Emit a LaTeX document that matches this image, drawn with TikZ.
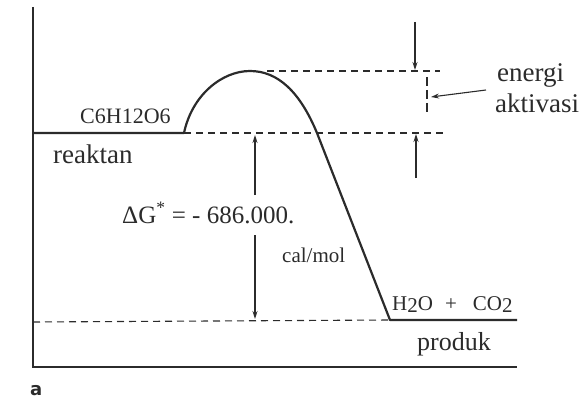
\documentclass[tikz,border=0pt]{standalone}
\usepackage{fontspec}
\setmainfont{Liberation Serif}
\newfontfamily\labfont{DejaVu Sans}
\usetikzlibrary{arrows.meta}
\definecolor{ink}{HTML}{2B2B2B}
\begin{document}
\begin{tikzpicture}[x=1pt,y=-1pt,
  axisline/.style={draw=ink,line width=1.6pt},
  curveline/.style={draw=ink,line width=2.2pt,line join=round},
  dashline/.style={draw=ink,line width=1.1pt,dash pattern=on 7pt off 5pt},
  arr/.style={draw=ink,line width=1.1pt,-{Stealth[length=8pt,width=5pt]}},
  lbl/.style={inner sep=0pt,anchor=base west,text=ink},
]
\useasboundingbox (0,0) rectangle (588,401);
% axes
\coordinate (ytop) at (33,7);
\coordinate (origin) at (33,367);
\coordinate (xend) at (517,367);
\draw[axisline] (ytop) -- (origin) -- (xend);
% energy profile
\coordinate (r0) at (33,133);
\coordinate (r1) at (184,133);
\coordinate (peak) at (250,71);
\coordinate (cross) at (317,133);
\coordinate (p0) at (390,320);
\coordinate (p1) at (517,320);
\draw[curveline] (r0) -- (r1) .. controls (192,95) and (222,71) .. (peak)
  .. controls (278,71) and (300,92) .. (cross) -- (p0) -- (p1);
% dashed levels
\coordinate (rd) at (445,133);
\coordinate (pk0) at (267,71);
\coordinate (pk1) at (440,71);
\coordinate (pd0) at (33,322);
\draw[dashline] (r1) -- (rd);
\draw[dashline] (pk0) -- (pk1);
\draw[dashline] (pd0) -- (p0);
% activation energy arrows
\coordinate (ta0) at (415,22);
\coordinate (ta1) at (415,70);
\coordinate (ba0) at (416,178);
\coordinate (ba1) at (416,134);
\draw[arr] (ta0) -- (ta1);
\draw[arr] (ba0) -- (ba1);
\coordinate (dv0) at (427,77);
\coordinate (dv1) at (427,113);
\draw[dashline,dash pattern=on 9pt off 4pt] (dv0) -- (dv1);
\coordinate (pt0) at (486,90);
\coordinate (pt1) at (431,97);
\draw[arr] (pt0) -- (pt1);
% delta G arrows
\coordinate (ga0) at (255,195);
\coordinate (ga1) at (255,135);
\coordinate (gb0) at (255,235);
\coordinate (gb1) at (255,319);
\draw[arr] (ga0) -- (ga1);
\draw[arr] (gb0) -- (gb1);
% labels
\node[lbl,font=\fontsize{22}{26}\selectfont] (glu) at (80,123) {C6H12O6};
\node[lbl,font=\fontsize{27}{30}\selectfont] (reak) at (53,163) {reaktan};
\node[lbl,font=\fontsize{27}{30}\selectfont] (en) at (497,82) {energi};
\node[lbl,font=\fontsize{27}{30}\selectfont] (akt) at (495,112) {aktivasi};
\node[lbl,font=\fontsize{25}{28}\selectfont] (dg) at (122,223) {ΔG\textsuperscript{*} = - 686.000.};
\node[lbl,font=\fontsize{21}{24}\selectfont] (cal) at (282,262) {cal/mol};
\node[lbl,font=\fontsize{21}{24}\selectfont] (prod) at (392,310) {H\raisebox{-2pt}{2}O\hspace{12pt}+\hspace{16pt}CO\raisebox{-2pt}{2}};
\node[lbl,font=\fontsize{26}{29}\selectfont] (pr) at (417,350) {produk};
\node[lbl,font=\labfont\bfseries\fontsize{18}{20}\selectfont] (fig) at (30,395) {a};
\end{tikzpicture}
\end{document}
